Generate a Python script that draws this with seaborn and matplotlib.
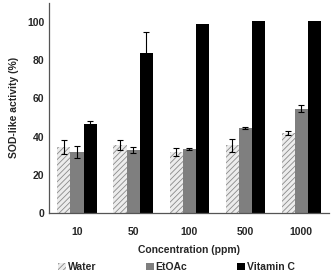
import numpy as np
import pandas as pd
import matplotlib
matplotlib.use('Agg')
import matplotlib.pyplot as plt
from matplotlib.patches import Patch
import seaborn as sns

sns.set_style("white")
plt.rcParams['font.family'] = ['Liberation Sans', 'DejaVu Sans']
plt.rcParams['hatch.linewidth'] = 0.6

# 数据
concentrations = ['10', '50', '100', '500', '1000']
samples = ['Water', 'EtOAc', 'Vitamin C']
water = [34.5, 35.5, 32.0, 35.5, 42.0]
water_err = [3.5, 2.5, 2.0, 3.5, 1.2]
etoac = [32.0, 33.0, 33.5, 44.5, 54.5]
etoac_err = [3.0, 1.5, 0.7, 0.3, 1.8]
vitc = [46.5, 83.5, 99.0, 100.5, 100.5]
vitc_err = [1.5, 11.0, 0.0, 0.0, 0.0]

df = pd.DataFrame({
    'Concentration': concentrations * 3,
    'Sample': np.repeat(samples, len(concentrations)),
    'Activity': water + etoac + vitc,
})
errs = water_err + etoac_err + vitc_err

colors = ['#ececec', '#7f7f7f', '#000000']
hatch_col = '#8a8a8a'

fig, ax = plt.subplots(figsize=(3.31, 2.75), dpi=100)
sns.barplot(data=df, x='Concentration', y='Activity', hue='Sample',
            palette=colors, width=0.7, errorbar=None, ax=ax,
            linewidth=0, legend=False)

# 斜线填充 (Water)
bars = ax.patches[:len(df)]
for p in bars[:len(concentrations)]:
    p.set_hatch('//////')
    p.set_edgecolor(hatch_col)
    p.set_linewidth(0)

# 误差线
for p, v, e in zip(bars, df['Activity'], errs):
    if e > 0:
        ax.errorbar(p.get_x() + p.get_width() / 2, v, yerr=e,
                    fmt='none', ecolor='black', elinewidth=0.8,
                    capsize=2.2, capthick=0.8)

ax.set_ylim(0, 110)
ax.set_xlim(-0.5, 4.5)
ax.set_yticks([0, 20, 40, 60, 80, 100])
ax.set_xticks(np.arange(0.5, 4.5, 1.0), minor=True)
ax.tick_params(axis='x', which='major', length=0, labelsize=7.5, pad=10)
ax.tick_params(axis='x', which='minor', direction='in', length=3, width=0.8, color='#555555')
ax.tick_params(axis='y', direction='in', length=3, width=0.8, labelsize=7.5, color='#555555')
for lab in ax.get_xticklabels() + ax.get_yticklabels():
    lab.set_fontweight('bold')

sns.despine(ax=ax)
for s in ['left', 'bottom']:
    ax.spines[s].set_color('#555555')
    ax.spines[s].set_linewidth(0.9)

ax.set_xlabel('Concentration (ppm)', fontsize=7.5, fontweight='bold', labelpad=6)
ax.set_ylabel('SOD-like activity (%)', fontsize=7.5, fontweight='bold', labelpad=6)

handles = [Patch(facecolor=colors[0], edgecolor=hatch_col, hatch='//////', linewidth=0),
           Patch(facecolor=colors[1], linewidth=0),
           Patch(facecolor=colors[2], linewidth=0)]
leg = ax.legend(handles, samples, loc='center', bbox_to_anchor=(0.455, -0.258), ncol=3,
                frameon=False, fontsize=7.5, handlelength=0.7, handleheight=0.7,
                handletextpad=0.2, columnspacing=4.8, borderaxespad=0)
for t in leg.get_texts():
    t.set_fontweight('bold')

fig.subplots_adjust(left=0.148, right=0.995, top=0.99, bottom=0.225)
fig.savefig('out.png', dpi=100)
